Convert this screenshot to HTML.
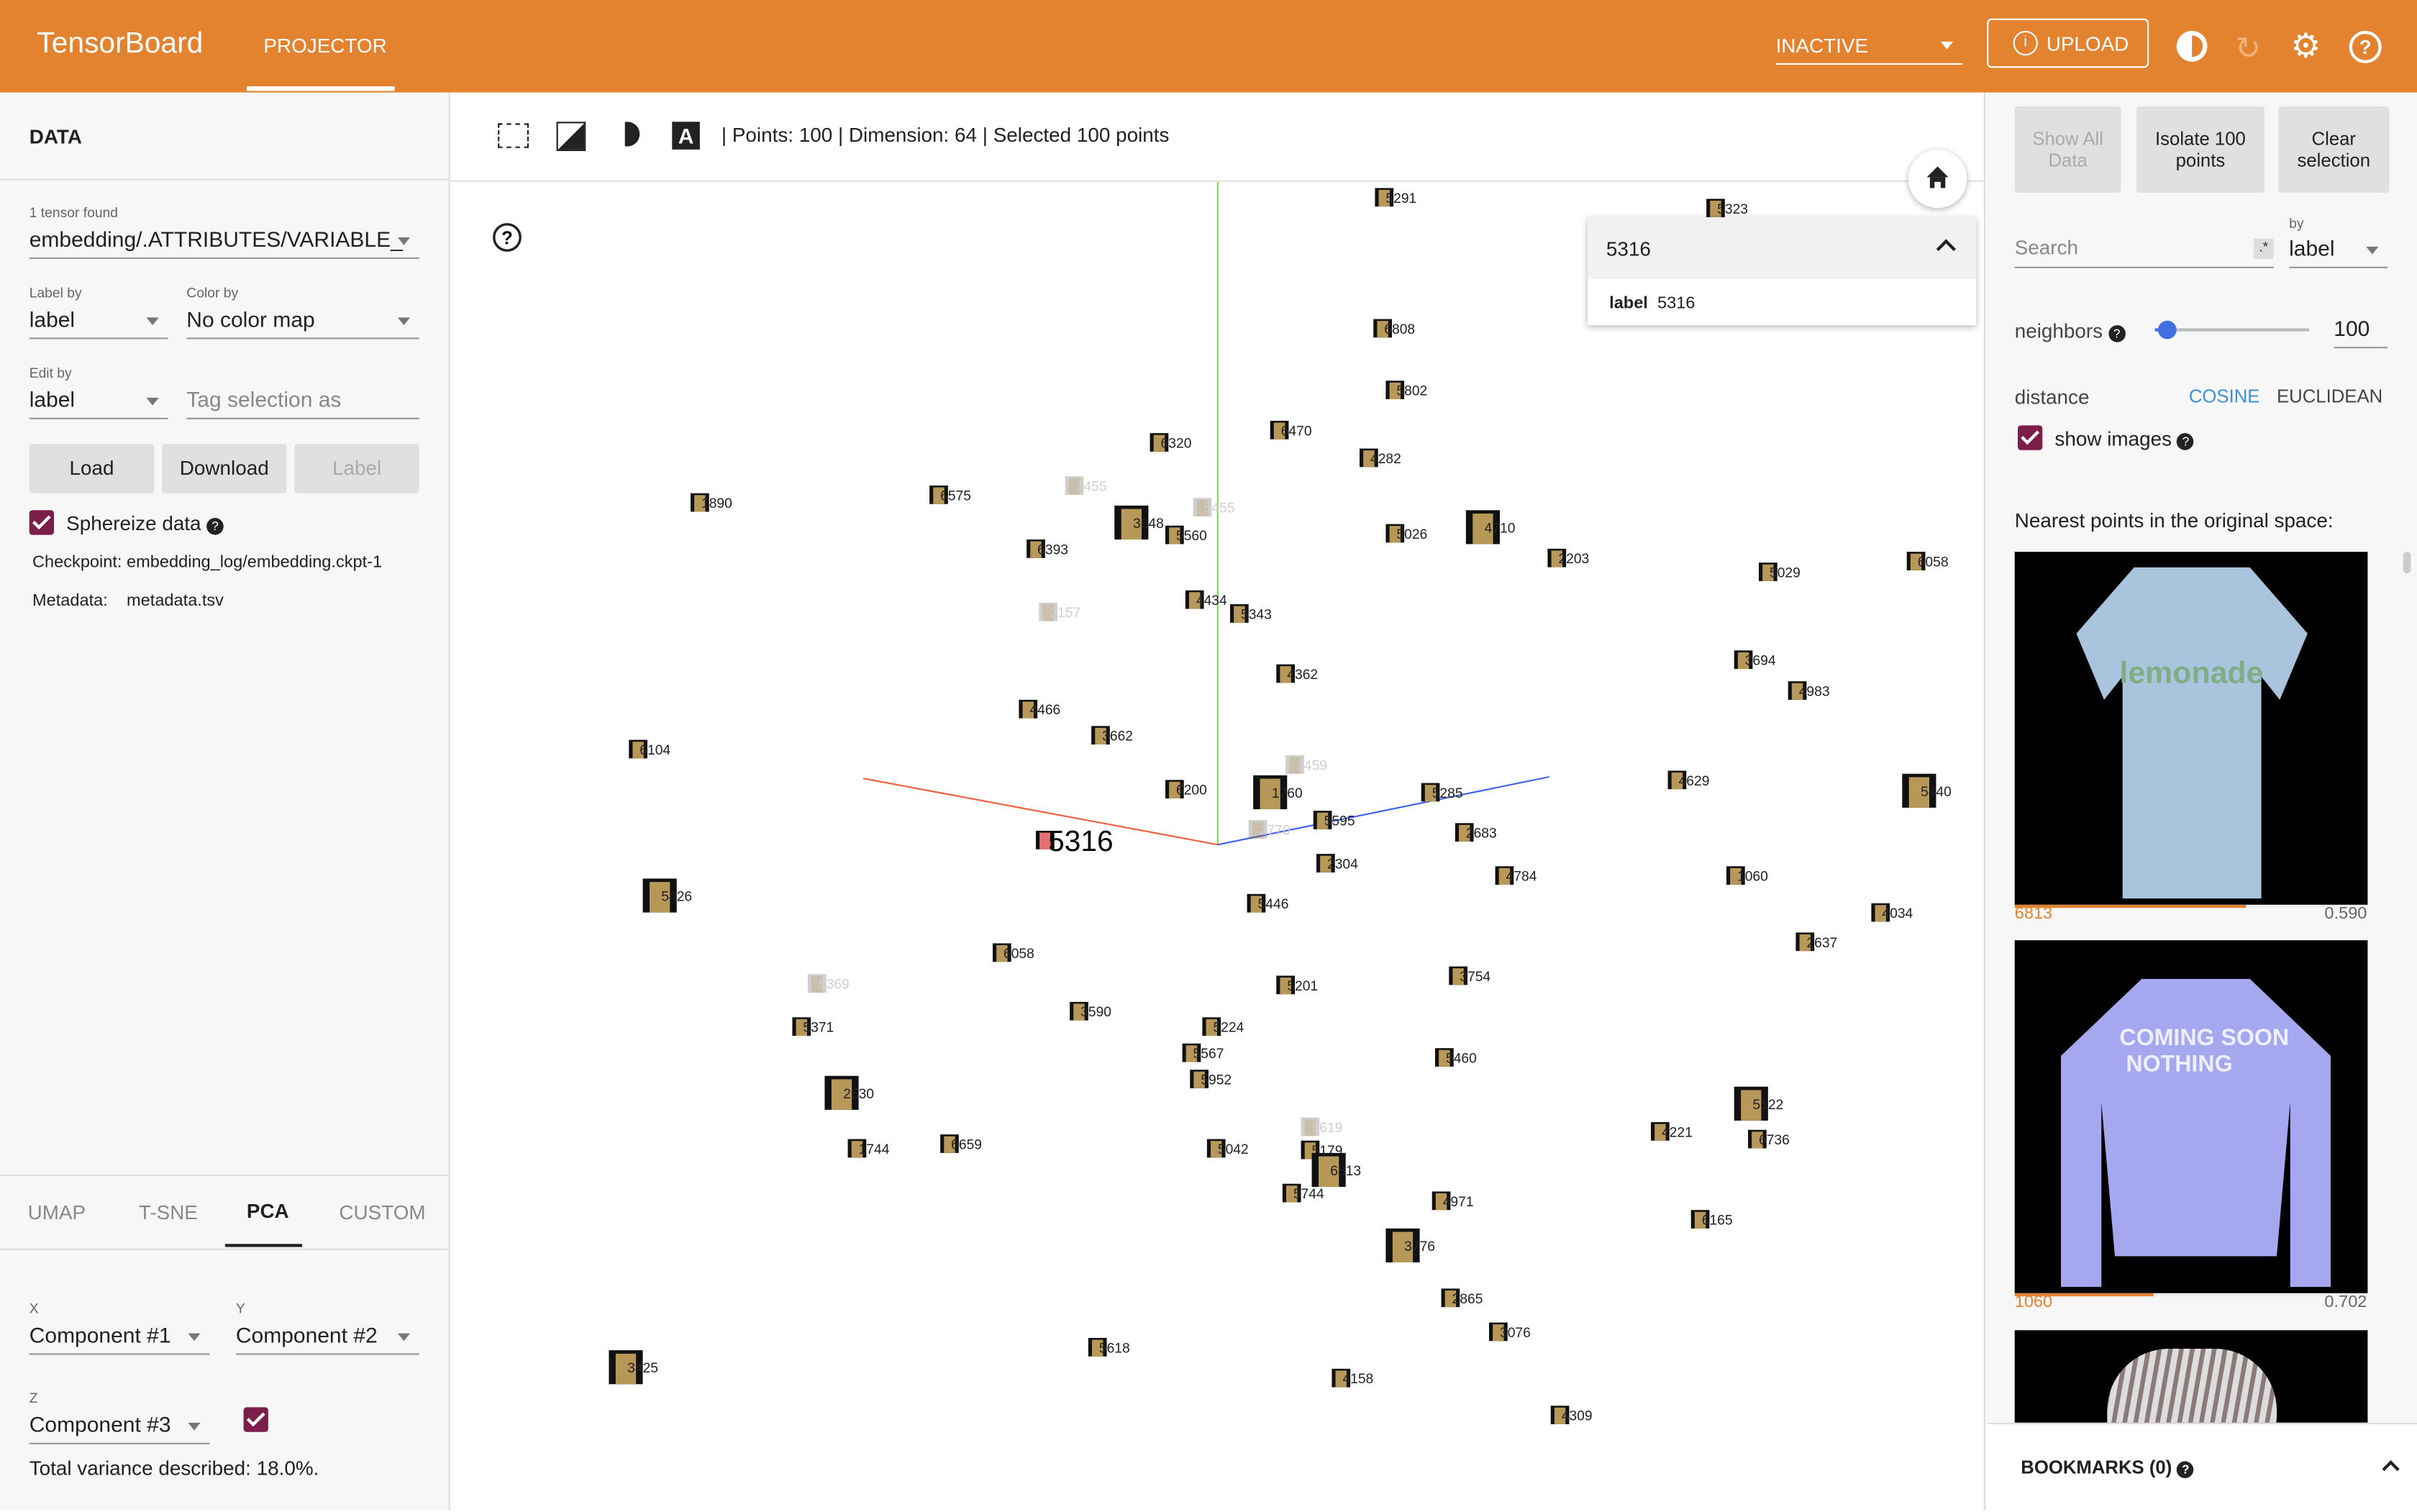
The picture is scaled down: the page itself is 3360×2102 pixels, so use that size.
<!DOCTYPE html>
<html><head><meta charset="utf-8">
<style>
html,body{margin:0;padding:0;width:3360px;height:2100px;overflow:hidden;background:#fff;font-family:"Liberation Sans",sans-serif;}
#wrap{position:absolute;left:0;top:0;width:1568px;height:980px;transform:scale(2.142857);transform-origin:0 0;color:#212121;}
.abs{position:absolute}
#hdr{left:0;top:0;width:1568px;height:60px;background:#e4832f;color:#fff}
.lp{left:0;top:60px;width:291px;height:920px;background:#f7f7f7;border-right:1px solid #ddd}
.rp{left:1287px;top:60px;width:281px;height:920px;background:#f7f7f7;border-left:1px solid #ddd}
.sm{font-size:10px;color:#666}
.inp{font-size:14px;border-bottom:1px solid #999;height:20px}
.btn{background:#e0e0e0;font-size:13px;text-align:center;border-radius:2px}
.caret{position:absolute;right:6px;top:7px;width:0;height:0;border-left:4px solid transparent;border-right:4px solid transparent;border-top:5px solid #777}
.chk{background:#7b1f4a;border-radius:2px;width:16px;height:16px}
.chk:after{content:"";position:absolute;left:5px;top:1px;width:4px;height:9px;border:solid #fff;border-width:0 2px 2px 0;transform:rotate(45deg)}
</style></head><body>
<div id="wrap">
<div id="hdr" class="abs">
  <div class="abs" style="left:24px;top:18px;font-size:19px">TensorBoard</div>
  <div class="abs" style="left:171px;top:22px;font-size:13px">PROJECTOR</div>
  <div class="abs" style="left:160px;top:56px;width:96px;height:3px;background:#fff"></div>
  <div class="abs" style="left:1152px;top:22px;width:121px;height:19px;border-bottom:1px solid #fff;font-size:13px">INACTIVE<div class="caret" style="border-top-color:#fff;top:5px"></div></div>
  <div class="abs" style="left:1289px;top:12px;width:105px;height:32px;border:1px solid #fff;border-radius:3px;font-size:13px;line-height:32px;text-align:right;box-sizing:border-box;padding-right:12px"><span class="abs" style="left:16px;top:7px;width:14px;height:14px;border:1.5px solid #fff;border-radius:50%;line-height:14px;text-align:center;font-size:10px">i</span>UPLOAD</div>
  <div class="abs" style="left:1412px;top:20px;width:20px;height:20px;border-radius:50%;background:#fff"><div class="abs" style="left:10px;top:3px;width:7px;height:14px;background:#e4832f;border-radius:0 7px 7px 0"></div></div>
  <div class="abs" style="left:1450px;top:19px;font-size:20px;color:#f0b27a">↻</div>
  <div class="abs" style="left:1486px;top:17px;font-size:22px">⚙</div>
  <div class="abs" style="left:1524px;top:20px;width:17px;height:17px;border:2px solid #fff;border-radius:50%;font-size:13px;text-align:center;line-height:17px;font-weight:bold">?</div>
</div>

<div class="abs lp">
  <div class="abs" style="left:19px;top:21px;font-size:13px;font-weight:bold">DATA</div>
  <div class="abs" style="left:0;top:56px;width:291px;height:1px;background:#ddd"></div>
  <div class="abs sm" style="left:19px;top:73px;font-size:9px">1 tensor found</div>
  <div class="abs inp" style="left:19px;top:87px;width:253px">embedding/.ATTRIBUTES/VARIABLE_<div class="caret"></div></div>
  <div class="abs sm" style="left:19px;top:125px;font-size:9px">Label by</div>
  <div class="abs inp" style="left:19px;top:139px;width:90px">label<div class="caret"></div></div>
  <div class="abs sm" style="left:121px;top:125px;font-size:9px">Color by</div>
  <div class="abs inp" style="left:121px;top:139px;width:151px">No color map<div class="caret"></div></div>
  <div class="abs sm" style="left:19px;top:177px;font-size:9px">Edit by</div>
  <div class="abs inp" style="left:19px;top:191px;width:90px">label<div class="caret"></div></div>
  <div class="abs inp" style="left:121px;top:191px;width:151px;color:#888">Tag selection as</div>
  <div class="abs btn" style="left:19px;top:228px;width:81px;height:32px;line-height:32px">Load</div>
  <div class="abs btn" style="left:105px;top:228px;width:81px;height:32px;line-height:32px">Download</div>
  <div class="abs btn" style="left:191px;top:228px;width:81px;height:32px;line-height:32px;color:#aaa">Label</div>
  <div class="abs chk" style="left:19px;top:271px"></div>
  <div class="abs" style="left:43px;top:272px;font-size:13px">Sphereize data <span style="display:inline-block;width:11px;height:11px;background:#222;color:#fff;border-radius:50%;font-size:8px;text-align:center;line-height:11px">?</span></div>
  <div class="abs" style="left:21px;top:299px;font-size:11px">Checkpoint: embedding_log/embedding.ckpt-1</div>
  <div class="abs" style="left:21px;top:324px;font-size:11px">Metadata:&nbsp;&nbsp;&nbsp; metadata.tsv</div>
  <div class="abs" style="left:0;top:702px;width:291px;height:1px;background:#ddd"></div>
  <div class="abs" style="left:18px;top:719px;font-size:13px;color:#888">UMAP</div>
  <div class="abs" style="left:90px;top:719px;font-size:13px;color:#888">T-SNE</div>
  <div class="abs" style="left:160px;top:718px;font-size:13px;font-weight:bold">PCA</div>
  <div class="abs" style="left:146px;top:747px;width:50px;height:2px;background:#222"></div>
  <div class="abs" style="left:220px;top:719px;font-size:13px;color:#888">CUSTOM</div>
  <div class="abs" style="left:0;top:750px;width:291px;height:1px;background:#ddd"></div>
  <div class="abs sm" style="left:19px;top:784px;font-size:9px">X</div>
  <div class="abs inp" style="left:19px;top:798px;width:117px">Component #1<div class="caret"></div></div>
  <div class="abs sm" style="left:153px;top:784px;font-size:9px">Y</div>
  <div class="abs inp" style="left:153px;top:798px;width:119px">Component #2<div class="caret"></div></div>
  <div class="abs sm" style="left:19px;top:842px;font-size:9px">Z</div>
  <div class="abs inp" style="left:19px;top:856px;width:117px">Component #3<div class="caret"></div></div>
  <div class="abs chk" style="left:158px;top:853px"></div>
  <div class="abs" style="left:19px;top:885px;font-size:13px">Total variance described: 18.0%.</div>
</div>

<div class="abs" style="left:292px;top:60px;width:995px;height:57px;border-bottom:1px solid #e0e0e0;background:#fff">
  <div class="abs" style="left:31px;top:20px;width:18px;height:14px;border:1.5px dashed #222"></div>
  <div class="abs" style="left:69px;top:19px;width:17px;height:17px;background:linear-gradient(135deg,#fff 50%,#222 50%);border:1.5px solid #222"></div>
  <div class="abs" style="left:107px;top:19px;width:16px;height:16px;border-radius:50%;background:#222;clip-path:inset(0 0 0 40%)"></div>
  <div class="abs" style="left:144px;top:19px;width:18px;height:18px;background:#222;color:#fff;font-weight:bold;font-size:14px;text-align:center;line-height:18px">A</div>
  <div class="abs" style="left:176px;top:20px;font-size:13px">| Points: 100 | Dimension: 64 | Selected 100 points</div>
</div>

<svg class="abs" style="left:292px;top:118px" width="995" height="862" id="plot">
  <line x1="498" y1="0" x2="498" y2="430" stroke="#7be34a" stroke-width="1"/>
  <line x1="268" y1="387" x2="498" y2="430" stroke="#f06040" stroke-width="1"/>
  <line x1="498" y1="430" x2="713" y2="386" stroke="#4060f0" stroke-width="1"/>
  <g id="marks"></g>
  <circle cx="37" cy="36" r="8.5" fill="none" stroke="#222" stroke-width="1.6"/>
  <text x="37" y="40.5" font-size="12" font-weight="bold" text-anchor="middle" font-family="Liberation Sans">?</text>
</svg>
<div class="abs" style="left:1238px;top:97px;width:38px;height:38px;border-radius:50%;background:#fff;box-shadow:0 1px 4px rgba(0,0,0,.3)">
  <div class="abs" style="left:12px;top:11px;width:0;height:0;border-left:7px solid transparent;border-right:7px solid transparent;border-bottom:7px solid #222"></div>
  <div class="abs" style="left:14px;top:18px;width:10px;height:7px;background:#222"></div>
  <div class="abs" style="left:17px;top:21px;width:4px;height:4px;background:#fff"></div>
</div>

<div class="abs" style="left:1030px;top:141px;width:252px;height:70px;background:#fff;box-shadow:0 1px 4px rgba(0,0,0,.3)">
  <div class="abs" style="left:0;top:0;width:252px;height:40px;background:#f1f1f1"></div>
  <div class="abs" style="left:12px;top:13px;font-size:13px">5316</div>
  <div class="abs" style="left:228px;top:16px;width:7px;height:7px;border-left:2px solid #222;border-top:2px solid #222;transform:rotate(45deg)"></div>
  <div class="abs" style="left:14px;top:50px;font-size:11px"><b>label</b>&nbsp; 5316</div>
</div>

<div class="abs rp">
  <div class="abs btn" style="left:19px;top:9px;width:69px;height:56px;font-size:12px;color:#aaa;display:flex;align-items:center;justify-content:center">Show All<br>Data</div>
  <div class="abs btn" style="left:98px;top:9px;width:83px;height:56px;font-size:12px;display:flex;align-items:center;justify-content:center">Isolate 100<br>points</div>
  <div class="abs btn" style="left:190px;top:9px;width:72px;height:56px;font-size:12px;display:flex;align-items:center;justify-content:center">Clear<br>selection</div>
  <div class="abs inp" style="left:19px;top:93px;width:168px;color:#888;font-size:13px">Search<span class="abs" style="right:0;top:2px;width:13px;height:13px;background:#ddd;font-size:9px;text-align:center;color:#333">.*</span></div>
  <div class="abs sm" style="left:197px;top:80px;font-size:9px">by</div>
  <div class="abs inp" style="left:197px;top:93px;width:64px">label<div class="caret"></div></div>
  <div class="abs" style="left:19px;top:147px;font-size:13px;color:#444">neighbors <span style="display:inline-block;width:11px;height:11px;background:#222;color:#fff;border-radius:50%;font-size:8px;text-align:center;line-height:11px">?</span></div>
  <div class="abs" style="left:110px;top:153px;width:100px;height:2px;background:#bbb"></div>
  <div class="abs" style="left:110px;top:153px;width:8px;height:2px;background:#3f6fe0"></div>
  <div class="abs" style="left:112px;top:148px;width:12px;height:12px;border-radius:50%;background:#3f6fe0"></div>
  <div class="abs inp" style="left:226px;top:145px;width:35px">100</div>
  <div class="abs" style="left:19px;top:190px;font-size:13px;color:#444">distance</div>
  <div class="abs" style="left:132px;top:190px;font-size:12px;color:#3f8fe0">COSINE</div>
  <div class="abs" style="left:189px;top:190px;font-size:12px;color:#444">EUCLIDEAN</div>
  <div class="abs chk" style="left:21px;top:216px"></div>
  <div class="abs" style="left:45px;top:217px;font-size:13px">show images <span style="display:inline-block;width:11px;height:11px;background:#222;color:#fff;border-radius:50%;font-size:8px;text-align:center;line-height:11px">?</span></div>
  <div class="abs" style="left:19px;top:270px;font-size:13px">Nearest points in the original space:</div>
  <div class="abs" style="left:19px;top:298px;width:229px;height:229px;background:#000;overflow:hidden">
    <div class="abs" style="left:40px;top:10px;width:150px;height:215px;background:#a9c4dc;clip-path:polygon(25% 0,75% 0,100% 20%,88% 40%,80% 33%,80% 100%,20% 100%,20% 33%,12% 40%,0 20%)"></div>
    <div class="abs" style="left:68px;top:68px;font-size:20px;font-weight:bold;color:#7fae86">lemonade</div>
  </div>
  <div class="abs" style="left:19px;top:527px;width:229px;height:2px;background:#eee"><div style="width:150px;height:2px;background:#e4832f"></div></div>
  <div class="abs" style="left:19px;top:527px;font-size:11px;color:#e4832f">6813</div>
  <div class="abs" style="left:220px;top:527px;font-size:11px;color:#666">0.590</div>
  <div class="abs" style="left:19px;top:550px;width:229px;height:229px;background:#000;overflow:hidden">
    <div class="abs" style="left:30px;top:25px;width:175px;height:200px;background:#a5a8ef;clip-path:polygon(30% 0,70% 0,100% 25%,100% 100%,85% 100%,85% 40%,80% 90%,20% 90%,15% 40%,15% 100%,0 100%,0 25%)"></div>
    <div class="abs" style="left:68px;top:55px;font-size:15px;color:#eef;font-weight:bold">COMING SOON<br>&nbsp;NOTHING</div>
  </div>
  <div class="abs" style="left:19px;top:779px;width:229px;height:2px;background:#eee"><div style="width:90px;height:2px;background:#e4832f"></div></div>
  <div class="abs" style="left:19px;top:779px;font-size:11px;color:#e4832f">1060</div>
  <div class="abs" style="left:220px;top:779px;font-size:11px;color:#666">0.702</div>
  <div class="abs" style="left:19px;top:803px;width:229px;height:60px;background:#000;overflow:hidden">
    <div class="abs" style="left:60px;top:12px;width:110px;height:60px;background:repeating-linear-gradient(100deg,#ddd 0 4px,#8a7a7a 4px 7px);border-radius:40px 40px 0 0"></div>
  </div>
  <div class="abs" style="left:1px;top:863px;width:280px;height:57px;background:#fff;border-top:1px solid #ddd">
    <div class="abs" style="left:22px;top:21px;font-size:12px;font-weight:bold">BOOKMARKS (0) <span style="display:inline-block;width:11px;height:11px;background:#222;color:#fff;border-radius:50%;font-size:8px;text-align:center;line-height:11px">?</span></div>
    <div class="abs" style="left:258px;top:25px;width:6px;height:6px;border-left:2px solid #222;border-top:2px solid #222;transform:rotate(45deg)"></div>
  </div>
  <div class="abs" style="left:271px;top:298px;width:5px;height:14px;background:#ccc;border-radius:3px"></div>
</div>
</div>
<script>
const labels=["5291","5323","6808","5802","6470","6320","4282","1455","6575","1890","3648","5560","5455","5026","4710","2203","6393","5029","6058","4434","5343","3157","3694","4983","4362","4466","3662","6104","1459","6200","1760","5285","4629","5440","5595","2770","2683","5316","2304","4784","1060","5426","5446","4034","2637","6058","5369","5201","3754","5371","3590","5224","5567","5952","5460","2630","5122","4221","6736","1744","6659","5042","5619","5179","6813","5744","4971","3776","6165","2865","3076","5618","3425","4158","4309"];
const xs=[1.08,3.23,1.07,1.15,0.40,-0.38,0.98,-0.93,-1.81,-3.36,-0.56,-0.28,-0.10,1.15,1.72,2.20,-1.18,3.57,4.53,-0.15,0.14,-1.10,3.41,3.76,0.44,-1.23,-0.76,-3.76,0.50,-0.28,0.34,1.38,2.98,4.55,0.68,0.26,1.60,-1.12,0.70,1.86,3.36,-3.62,0.25,4.30,3.81,-1.40,-2.60,0.44,1.56,-2.70,-0.90,-0.04,-0.17,-0.12,1.47,-2.44,3.46,2.87,3.50,-2.34,-1.74,-0.01,0.60,0.60,0.72,0.48,1.45,1.20,3.13,1.51,1.82,-0.78,-3.84,0.80,2.22];
const ys=[4.20,4.13,3.35,2.95,2.69,2.61,2.51,2.33,2.27,2.22,2.09,2.01,2.19,2.02,2.06,1.86,1.92,1.77,1.84,1.59,1.50,1.51,1.20,1.00,1.11,0.88,0.71,0.62,0.52,0.36,0.34,0.34,0.42,0.35,0.16,0.10,0.08,0.03,-0.12,-0.20,-0.20,-0.33,-0.38,-0.44,-0.63,-0.70,-0.90,-0.91,-0.85,-1.18,-1.08,-1.18,-1.35,-1.52,-1.38,-1.61,-1.68,-1.86,-1.91,-1.97,-1.94,-1.97,-1.83,-1.98,-2.11,-2.26,-2.31,-2.60,-2.43,-2.94,-3.16,-3.26,-3.39,-3.46,-3.70];
const faded=["1455","5455","3157","1459","2770","5369","5619"];
const big=["4710","1760","5426","2630","5122","3776","6813","5440","3648","3425"];
const highlighted="5316";
const xScale=v=>498+v*100, yScale=v=>430-v*100;
const NS="http://www.w3.org/2000/svg";
const g=document.getElementById('marks');
for(let i=0;i<labels.length;i++){
  const cx=xScale(xs[i]), cy=yScale(ys[i]);
  const s=big.includes(labels[i])?22:12;
  const fd=faded.includes(labels[i]);
  const hl=labels[i]===highlighted;
  const r=document.createElementNS(NS,'rect');
  r.setAttribute('x',cx-s/2);r.setAttribute('y',cy-s/2);r.setAttribute('width',s);r.setAttribute('height',s);
  r.setAttribute('fill','#111');
  if(fd) r.setAttribute('opacity','0.2');
  
  
  g.appendChild(r);
  const c=document.createElementNS(NS,'rect');
  c.setAttribute('x',cx-s/2+s*0.2);c.setAttribute('y',cy-s/2+s*0.1);c.setAttribute('width',s*0.6);c.setAttribute('height',s*0.9);
  c.setAttribute('fill',hl?'#e87070':'#b89858');
  if(fd) c.setAttribute('opacity','0.3');
  
  
  g.appendChild(c);
  const t=document.createElementNS(NS,'text');
  t.setAttribute('x',cx+(hl?2:1));t.setAttribute('y',cy+(hl?7:3.5));
  t.setAttribute('font-size',hl?19:9);
  t.setAttribute('font-family','Liberation Sans');
  t.setAttribute('fill',fd?'#cfcfcf':(hl?'#000':'#222'));
  t.textContent=labels[i];
  
  
  g.appendChild(t);
}
</script>
</body></html>
